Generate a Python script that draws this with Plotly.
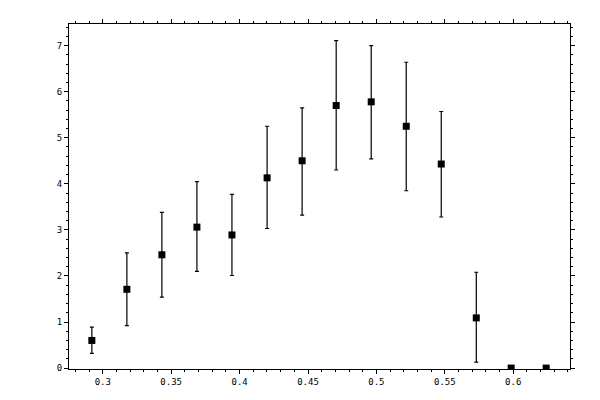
import plotly.graph_objects as go

x_vals = [0.292, 0.3176, 0.3432, 0.3688, 0.3944, 0.4201, 0.4457,
          0.4706, 0.4962, 0.5218, 0.5474, 0.5730, 0.5985, 0.6241]
y_vals = [0.60, 1.71, 2.46, 3.06, 2.89, 4.13, 4.50,
          5.70, 5.78, 5.25, 4.43, 1.09, 0.0, 0.0]
y_hi = [0.89, 2.50, 3.38, 4.05, 3.77, 5.25, 5.65,
        7.11, 7.00, 6.64, 5.57, 2.08, 0.0, 0.0]
y_lo = [0.32, 0.92, 1.54, 2.10, 2.01, 3.03, 3.32,
        4.30, 4.54, 3.85, 3.28, 0.13, 0.0, 0.0]

x_ticks = [0.3, 0.35, 0.4, 0.45, 0.5, 0.55, 0.6]
x_labels = ["0.3", "0.35", "0.4", "0.45", "0.5", "0.55", "0.6"]
y_ticks = [0, 1, 2, 3, 4, 5, 6, 7]

err_plus = [h - y for h, y in zip(y_hi, y_vals)]
err_minus = [y - l for y, l in zip(y_vals, y_lo)]

fig = go.Figure()
fig.add_trace(go.Scatter(
    x=x_vals, y=y_vals,
    mode="markers",
    marker=dict(symbol="square", size=7, color="black"),
    error_y=dict(type="data", symmetric=False,
                 array=err_plus, arrayminus=err_minus,
                 color="black", thickness=1.2, width=2),
    showlegend=False,
))

axis_style = dict(
    showline=True, linecolor="black", linewidth=1.2, mirror="allticks",
    ticks="outside", ticklen=4, tickcolor="black", tickwidth=1.2,
    showgrid=False, zeroline=False,
    tickfont=dict(family="DejaVu Sans Mono", size=9, color="black"),
)

fig.update_xaxes(range=[0.2753, 0.6415], tickvals=x_ticks, ticktext=x_labels,
                 minor=dict(dtick=0.01, tick0=0, ticks="outside", ticklen=2,
                            tickcolor="black", tickwidth=1.2, showgrid=False),
                 **axis_style)
fig.update_yaxes(range=[-0.02, 7.47], tickvals=y_ticks,
                 minor=dict(dtick=0.2, tick0=0, ticks="outside", ticklen=2,
                            tickcolor="black", tickwidth=1.2, showgrid=False),
                 **axis_style)

# the page adds an 8px body margin, so shift the plot box up/left by that much
fig.update_layout(
    width=600, height=400,
    margin=dict(l=61, r=38, t=11, b=39),
    paper_bgcolor="white", plot_bgcolor="white",
)

fig.write_html("out.html")
